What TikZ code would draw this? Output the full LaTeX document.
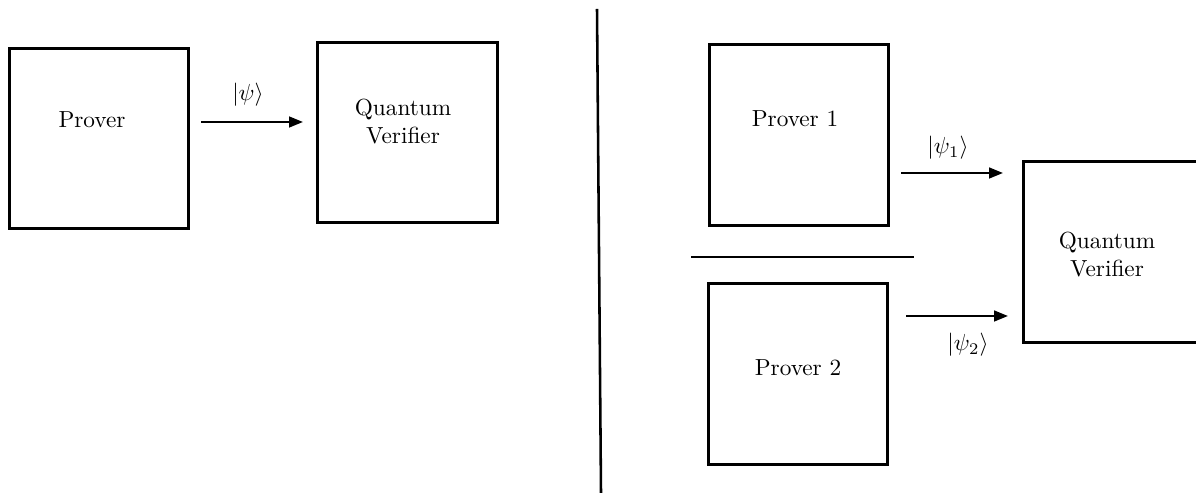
\documentclass[tikz,border=0pt]{standalone}
\usetikzlibrary{arrows.meta}
\begin{document}
\begin{tikzpicture}[x=0.43pt,y=-0.43pt,
  box/.style={draw,line width=1.3pt,minimum width=77pt,minimum height=77.5pt,inner sep=0pt},
  txt/.style={inner sep=0pt,align=center},
  msg/.style={line width=1pt,-{Triangle[length=6pt,width=4.6pt]}},
  sep/.style={line width=1.1pt}]
\useasboundingbox (0,0) rectangle (1196,493);
\clip (0,0) rectangle (1196,493);

% single prover setting
\node[box] (P) at (99,138.5) {};
\node[box] (V) at (407.5,132.5) {};
\node[txt] (Pt) at (92,120) {Prover};
\node[txt] (Vt) at (403,122) {Quantum\\Verifier};
\coordinate (a1) at (201,122);
\coordinate (a2) at (303,122);
\draw[msg] (a1) -- (a2);
\node[txt] (psi) at (248,95) {$|\psi\rangle$};

% dividing line
\coordinate (d1) at (597,9);
\coordinate (d2) at (601,493);
\draw[sep] (d1) -- (d2);

% two-prover setting
\node[box] (P1) at (799,135) {};
\node[box] (P2) at (798,374) {};
\node[box] (V2) at (1113.5,252) {};
\node[txt] (P1t) at (795,119) {Prover 1};
\node[txt] (P2t) at (798,368) {Prover 2};
\node[txt] (V2t) at (1107,255) {Quantum\\Verifier};
\coordinate (h1) at (691,257);
\coordinate (h2) at (914,257);
\draw[sep] (h1) -- (h2);
\coordinate (b1) at (901,173);
\coordinate (b2) at (1003,173);
\coordinate (c1) at (906,316);
\coordinate (c2) at (1008,316);
\draw[msg] (b1) -- (b2);
\draw[msg] (c1) -- (c2);
\node[txt] (psi1) at (948,148) {$|\psi_1\rangle$};
\node[txt] (psi2) at (968,345) {$|\psi_2\rangle$};
\end{tikzpicture}
\end{document}
